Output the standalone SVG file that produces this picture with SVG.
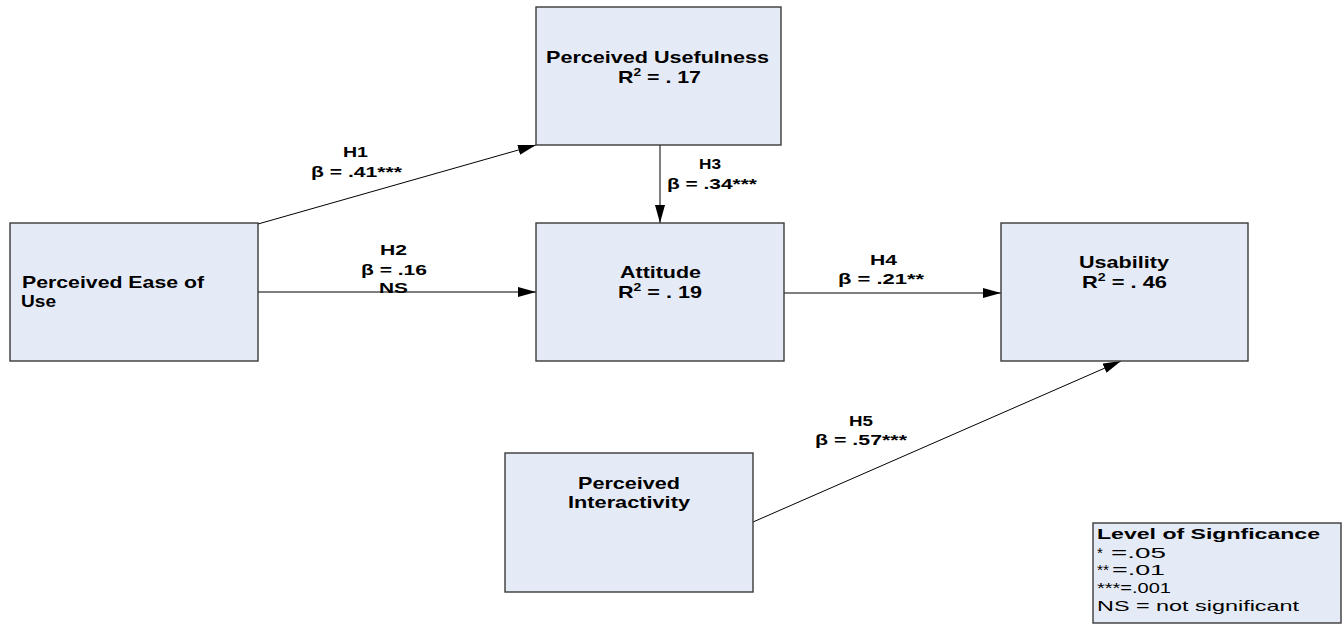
<svg xmlns="http://www.w3.org/2000/svg" width="1344" height="624" viewBox="0 0 1344 624">
<style>
.box{fill:#E5EBF6;stroke:#3a3a3a;stroke-width:1.4}
.nt{font-family:"Liberation Sans",Arial,sans-serif;font-weight:bold;font-size:17px;fill:#000}
.ht{font-family:"Liberation Sans",Arial,sans-serif;font-weight:bold;font-size:15.5px;fill:#000}
.lt{font-family:"Liberation Sans",Arial,sans-serif;font-size:15px;fill:#000}
.lb{font-family:"Liberation Sans",Arial,sans-serif;font-size:15px;font-weight:bold;fill:#000}
.con{stroke:#000;stroke-width:1;fill:none;marker-end:url(#arr)}
</style>
<defs>
<marker id="arr" markerUnits="userSpaceOnUse" markerWidth="18" markerHeight="10" viewBox="0 0 18 10" refX="18" refY="5" orient="auto">
<path d="M0,0 L18,5 L0,10 Z" fill="#000"/>
</marker>
</defs>
<rect width="1344" height="624" fill="#fff"/>
<g id="connectors">
<line class="con" x1="258" y1="224" x2="536" y2="145"/>
<line class="con" x1="258" y1="292" x2="536" y2="292"/>
<line class="con" x1="660" y1="145" x2="660" y2="223"/>
<line class="con" x1="784" y1="293" x2="1001" y2="293"/>
<line class="con" x1="753" y1="522" x2="1121" y2="361"/>
</g>
<g id="node-usefulness">
<rect class="box" x="536" y="7" width="245" height="138"/>
<text class="nt" x="546" y="63" textLength="223" lengthAdjust="spacingAndGlyphs">Perceived Usefulness</text>
<text class="nt" x="618" y="83" textLength="83" lengthAdjust="spacingAndGlyphs">R<tspan font-size="11" dy="-7">2</tspan><tspan dy="7"> = . 17</tspan></text>
</g>
<g id="node-ease">
<rect class="box" x="10" y="223" width="248" height="138"/>
<text class="nt" x="22" y="288" textLength="182" lengthAdjust="spacingAndGlyphs">Perceived Ease of</text>
<text class="nt" x="21" y="307" textLength="35" lengthAdjust="spacingAndGlyphs">Use</text>
</g>
<g id="node-attitude">
<rect class="box" x="536" y="223" width="248" height="138"/>
<text class="nt" x="620" y="278" textLength="81" lengthAdjust="spacingAndGlyphs">Attitude</text>
<text class="nt" x="618" y="298" textLength="84" lengthAdjust="spacingAndGlyphs">R<tspan font-size="11" dy="-7">2</tspan><tspan dy="7"> = . 19</tspan></text>
</g>
<g id="node-usability">
<rect class="box" x="1001" y="223" width="247" height="138"/>
<text class="nt" x="1079" y="268" textLength="90" lengthAdjust="spacingAndGlyphs">Usability</text>
<text class="nt" x="1082" y="288" textLength="85" lengthAdjust="spacingAndGlyphs">R<tspan font-size="11" dy="-7">2</tspan><tspan dy="7"> = . 46</tspan></text>
</g>
<g id="node-interactivity">
<rect class="box" x="505" y="453" width="248" height="139"/>
<text class="nt" x="578" y="489" textLength="102" lengthAdjust="spacingAndGlyphs">Perceived</text>
<text class="nt" x="568" y="508" textLength="122" lengthAdjust="spacingAndGlyphs">Interactivity</text>
</g>
<g id="labels">
<text class="ht" x="343" y="157" textLength="25" lengthAdjust="spacingAndGlyphs">H1</text>
<text class="ht" x="311" y="177" textLength="91" lengthAdjust="spacingAndGlyphs">β = .41***</text>
<text class="ht" x="380" y="255" textLength="27" lengthAdjust="spacingAndGlyphs">H2</text>
<text class="ht" x="361" y="275" textLength="66" lengthAdjust="spacingAndGlyphs">β = .16</text>
<text class="ht" x="379" y="293" textLength="29" lengthAdjust="spacingAndGlyphs">NS</text>
<text class="ht" x="699" y="169" textLength="22" lengthAdjust="spacingAndGlyphs">H3</text>
<text class="ht" x="667" y="189" textLength="90" lengthAdjust="spacingAndGlyphs">β = .34***</text>
<text class="ht" x="870" y="265" textLength="27" lengthAdjust="spacingAndGlyphs">H4</text>
<text class="ht" x="838" y="284" textLength="86" lengthAdjust="spacingAndGlyphs">β = .21**</text>
<text class="ht" x="849" y="426" textLength="24" lengthAdjust="spacingAndGlyphs">H5</text>
<text class="ht" x="815" y="445" textLength="92" lengthAdjust="spacingAndGlyphs">β = .57***</text>
</g>
<g id="legend">
<rect class="box" x="1093" y="523" width="248" height="100"/>
<text class="lb" x="1097" y="539" textLength="223" lengthAdjust="spacingAndGlyphs">Level of Signficance</text>
<text class="lt" y="558"><tspan x="1097">*</tspan><tspan x="1111" textLength="55" lengthAdjust="spacingAndGlyphs">=.05</tspan></text>
<text class="lt" y="575"><tspan x="1097" textLength="12" lengthAdjust="spacingAndGlyphs">**</tspan><tspan x="1112" textLength="53" lengthAdjust="spacingAndGlyphs">=.01</tspan></text>
<text class="lt" x="1097" y="593" textLength="74" lengthAdjust="spacingAndGlyphs">***=.001</text>
<text class="lt" x="1097" y="611" textLength="202" lengthAdjust="spacingAndGlyphs">NS = not significant</text>
</g>
</svg>
